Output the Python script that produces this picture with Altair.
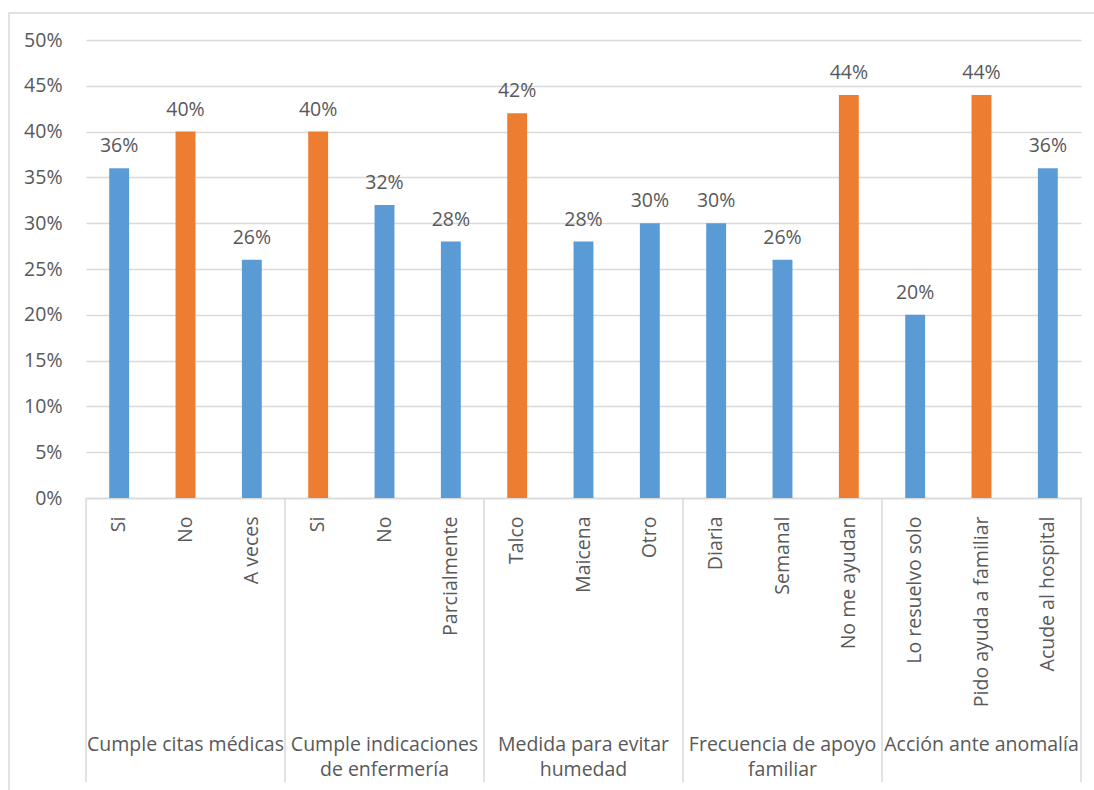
import altair as alt
import pandas as pd

groups = ["Cumple citas médicas", "Cumple indicaciones\nde enfermería",
          "Medida para evitar\nhumedad", "Frecuencia de apoyo\nfamiliar",
          "Acción ante anomalía"]
sub_labels = ["Si", "No", "A veces",
              "Si", "No", "Parcialmente",
              "Talco", "Maicena", "Otro",
              "Diaria", "Semanal", "No me ayudan",
              "Lo resuelvo solo", "Pido ayuda a familiar", "Acude al hospital"]
values = [36, 40, 26, 40, 32, 28, 42, 28, 30, 30, 26, 44, 20, 44, 36]
highlight = [0, 1, 0, 1, 0, 0, 1, 0, 0, 0, 0, 1, 0, 1, 0]

BLUE = "#5B9BD5"
ORANGE = "#ED7D31"
GRAY = "#D9D9D9"
TXT = "#595959"
FONT = "Open Sans"
FS = 19.5

rows = []
for i, (lab, v, h) in enumerate(zip(sub_labels, values, highlight)):
    rows.append({"key": f"{i:02d}|{lab}", "label": lab, "value": v / 100,
                 "text": f"{v}%", "color": ORANGE if h else BLUE})
df = pd.DataFrame(rows)
order = list(df["key"])

gdf = pd.DataFrame({"g": [i + 0.5 for i in range(len(groups))], "name": groups})
sdf = pd.DataFrame({"s": list(range(len(groups) + 1))})

W, H = 995, 458

xenc = alt.X("key:N", sort=order,
             scale=alt.Scale(paddingInner=0.7, paddingOuter=0.35),
             axis=alt.Axis(title=None, labelAngle=270, labelExpr="split(datum.label,'|')[1]",
                           ticks=False, labelPadding=18, domainColor=GRAY, domainWidth=1.5,
                           labelFont=FONT, labelFontSize=FS, labelColor=TXT, labelLimit=300))
yenc = alt.Y("value:Q", scale=alt.Scale(domain=[0, 0.5]),
             axis=alt.Axis(title=None, format=".0%", values=[i * 0.05 for i in range(11)],
                           domain=False, ticks=False, gridColor=GRAY, gridWidth=1.5,
                           labelPadding=24, labelFont=FONT, labelFontSize=FS, labelColor=TXT))

bars = alt.Chart(df).mark_bar().encode(
    x=xenc, y=yenc, color=alt.Color("color:N", scale=None))

labels = alt.Chart(df).mark_text(baseline="bottom", dy=-12, font=FONT, fontSize=FS,
                                 color=TXT).encode(
    x=alt.X("key:N", sort=order), y="value:Q", text="text:N")

main = alt.layer(bars, labels)

xq = alt.Scale(domain=[0, len(groups)])
seps = alt.Chart(sdf).mark_rule(color=GRAY, strokeWidth=1.5).encode(
    x=alt.X("s:Q", scale=xq, axis=None),
    y=alt.value(H), y2=alt.value(742))

gl = alt.Chart(gdf).mark_text(baseline="top", font=FONT, fontSize=FS, color=TXT,
                              lineBreak="\n", lineHeight=25).encode(
    x=alt.X("g:Q", scale=xq, axis=None), y=alt.value(696), text="name:N")

deco = alt.layer(seps, gl)

border = alt.Chart(pd.DataFrame({"a": [0]})).mark_rect(
    fill=None, stroke=GRAY, strokeWidth=1.5).encode(
    x=alt.value(-77), x2=alt.value(1010), y=alt.value(-27), y2=alt.value(760))

chart = alt.layer(border, main, deco).resolve_scale(x="independent").properties(
    width=W, height=H,
    autosize=alt.AutoSizeParams(type="none"),
    padding={"left": 86, "top": 40, "right": 13, "bottom": 292},
    background="white",
).configure_view(stroke=None)

chart.save("out.html", embed_options={"renderer": "svg", "actions": False})
